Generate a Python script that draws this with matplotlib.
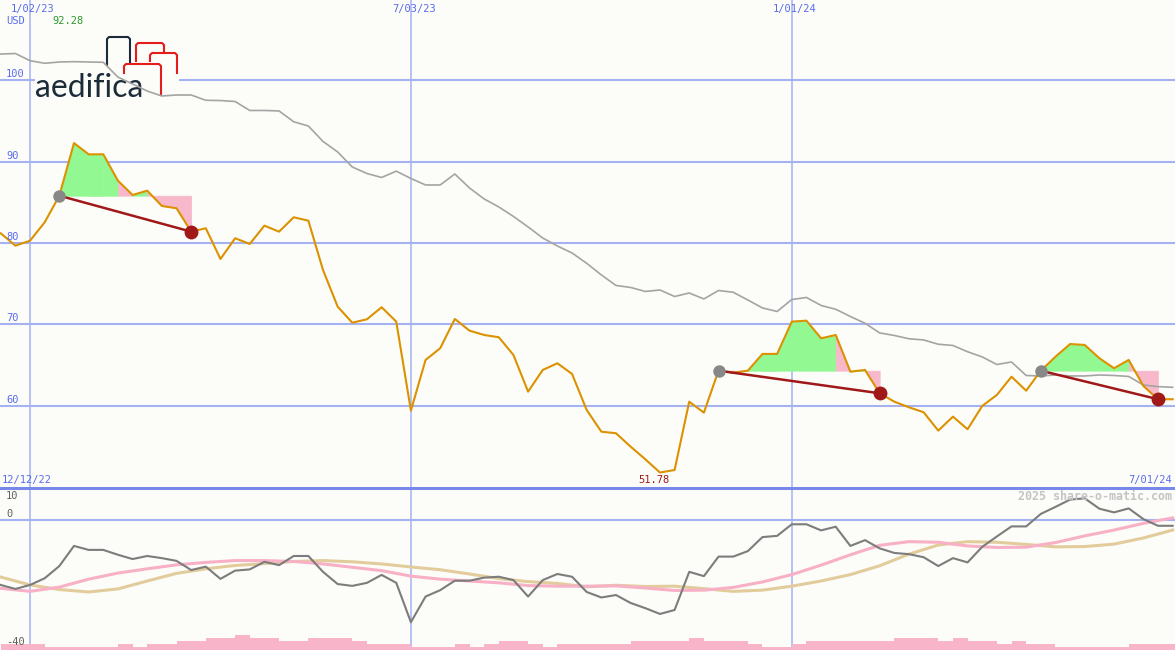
import numpy as np
import matplotlib
matplotlib.use("Agg")
import matplotlib.pyplot as plt
import matplotlib.transforms as mtransforms
from matplotlib.patches import Rectangle

# weekly data, week 0 = 1/02/23
weeks = np.arange(-2, 79)
price = np.array([
    81.19, 79.67, 80.28, 82.54, 85.81, 92.28, 90.90, 90.90, 87.66, 85.90,
    86.43, 84.55, 84.27, 81.39, 81.81, 78.03, 80.58, 79.88, 82.13, 81.39,
    83.16, 82.74, 76.68, 72.17, 70.20, 70.62, 72.10, 70.33, 59.39, 65.62,
    67.06, 70.66, 69.22, 68.69, 68.41, 66.23, 61.72, 64.39, 65.21, 63.90,
    59.47, 56.80, 56.61, 54.96, 53.41, 51.78, 52.09, 60.49, 59.14, 64.30,
    64.06, 64.30, 66.36, 66.36, 70.33, 70.45, 68.28, 68.69, 64.18, 64.39,
    61.52, 60.49, 59.80, 59.19, 56.93, 58.65, 57.10, 59.96, 61.32, 63.56,
    61.84, 64.30, 66.02, 67.58, 67.46, 65.83, 64.60, 65.62, 62.42, 60.79,
    60.79])
index_line = np.array([
    103.23, 103.29, 102.41, 102.09, 102.25, 102.29, 102.25, 102.21, 100.39, 99.55,
    98.68, 98.07, 98.19, 98.19, 97.54, 97.51, 97.39, 96.29, 96.29, 96.23,
    94.90, 94.38, 92.48, 91.19, 89.34, 88.54, 88.05, 88.83, 87.93, 87.13,
    87.13, 88.48, 86.76, 85.41, 84.43, 83.26, 81.97, 80.61, 79.63, 78.77,
    77.50, 76.07, 74.78, 74.53, 74.04, 74.22, 73.42, 73.85, 73.12, 74.16,
    73.94, 72.99, 72.01, 71.58, 73.05, 73.30, 72.32, 71.85, 70.96, 70.13,
    68.94, 68.63, 68.22, 68.08, 67.55, 67.40, 66.63, 65.99, 65.06, 65.37,
    63.71, 63.65, 63.77, 63.65, 63.65, 63.77, 63.71, 63.59, 62.54, 62.34,
    62.26])
momentum = np.array([
    -21.3, -22.6, -21.3, -19.1, -15.1, -8.5, -9.8, -9.8, -11.4, -12.8,
    -11.8, -12.5, -13.4, -16.4, -15.3, -19.3, -16.6, -16.2, -13.7, -14.8,
    -11.8, -11.8, -17.0, -21.0, -21.6, -20.6, -18.0, -20.6, -33.5, -25.1,
    -23.0, -19.9, -19.9, -18.9, -18.6, -19.7, -25.1, -19.7, -17.7, -18.6,
    -23.6, -25.4, -24.6, -27.2, -28.9, -30.8, -29.5, -17.0, -18.4, -12.0,
    -12.0, -10.2, -5.6, -5.2, -1.4, -1.4, -3.4, -2.2, -8.5, -6.6,
    -9.3, -10.8, -11.2, -12.2, -15.1, -12.5, -13.9, -8.8, -5.4, -2.1,
    -2.1, 2.0, 4.3, 6.7, 7.1, 3.7, 2.5, 3.8, 0.3, -1.9,
    -1.9])
avg_weeks = np.arange(-2, 79, 2)
avg_fast = [-22.4, -23.4, -22.0, -19.4, -17.4, -16.0, -14.7, -13.9, -13.3, -13.3,
            -13.6, -14.4, -15.5, -16.6, -18.4, -19.4, -20.0, -20.6, -21.5, -21.7,
            -21.7, -21.6, -22.3, -23.1, -23.0, -22.1, -20.3, -17.9, -14.8, -11.4,
            -8.3, -7.1, -7.3, -8.5, -9.0, -8.9, -7.4, -5.2, -3.3, -1.1, 0.7]
avg_slow = [-18.7, -21.3, -22.8, -23.6, -22.6, -20.0, -17.5, -16.0, -14.9, -14.3,
            -13.6, -13.3, -13.7, -14.4, -15.4, -16.3, -17.7, -19.2, -20.2, -20.8,
            -21.9, -21.4, -21.8, -21.7, -22.5, -23.4, -23.0, -21.7, -20.0, -17.9,
            -15.0, -11.2, -8.2, -7.1, -7.3, -8.0, -8.8, -8.7, -7.9, -5.9, -3.3]
volume = [2, 2, 2, 1, 1, 1, 1, 1, 2, 1, 2, 2, 3, 3, 4, 4, 5, 4, 4, 3,
          3, 4, 4, 4, 3, 2, 2, 2, 1, 1, 1, 2, 1, 2, 3, 3, 2, 1, 2, 2,
          2, 2, 2, 3, 3, 3, 3, 4, 3, 3, 3, 2, 1, 1, 2, 3, 3, 3, 3, 3,
          3, 4, 4, 4, 3, 4, 3, 3, 2, 3, 2, 2, 1, 1, 1, 1, 1, 2, 2, 2, 2]

date_weeks = [0, 26, 52]
date_labels = ["1/02/23", "7/03/23", "1/01/24"]
price_ticks = [60, 70, 80, 90, 100]
lower_ticks = [10, 0, -40]
# (start week, end week, segment colours G=green P=pink)
patterns = [(2, 11, "GGGGPGPPP"), (47, 58, "PPGGGGGGPGP"), (69, 77, "GGGGGGPP")]

W, H = 1175, 650
split = 487
bg = "#fcfdf9"
blue = "#5a6aee"
grid_c = "#a4b2f2"
darkred = "#a01818"
mono = "DejaVu Sans Mono"
fs = 7.5

fig = plt.figure(figsize=(W / 100, H / 100), dpi=100)
fig.patch.set_facecolor(bg)
ax = fig.add_axes([0, (H - split) / H, 1, split / H])
ax2 = fig.add_axes([0, 0, 1, (H - split) / H])
for a in (ax, ax2):
    a.set_axis_off()
px = mtransforms.Affine2D().scale(1 / W, -1 / H).translate(0, 1) + fig.transFigure

# grid
for t in price_ticks:
    ax.axhline(t, color=grid_c, lw=1.5, zorder=1)
for w in date_weeks:
    ax.axvline(w, color=grid_c, lw=1.1, zorder=1)
    ax2.axvline(w, color=grid_c, lw=1.1, zorder=1)

# logo
ax.add_patch(Rectangle((35, 34), 144, 65, transform=px, facecolor=bg,
                       edgecolor="none", zorder=2))
ax.plot([107, 107, 109, 128, 130, 130], [65, 39, 37, 37, 39, 62], color="#1c2b39",
        lw=1.5, transform=px, zorder=2.5, solid_joinstyle="round")
for xs, ys in [([136, 136, 138, 162, 164, 164], [61, 45, 43, 43, 45, 52]),
               ([150, 150, 152, 175, 177, 177], [61, 55, 53, 53, 55, 73]),
               ([124, 124, 126, 159, 161, 161], [73, 66, 64, 64, 66, 95])]:
    ax.plot(xs, ys, color="#e41c1c", lw=1.5, transform=px, zorder=2.5,
            solid_joinstyle="round")
ax.text(35, 97, "aedifica", transform=px, fontsize=23, color="#1c2b39",
        family="Lato", va="baseline", ha="left", zorder=2.5)

# fills + trend lines
fill_c = {"G": "#92f892", "P": "#f8b8cc"}
for start, end, cols in patterns:
    i0 = start - weeks[0]
    base = price[i0]
    for k, c in enumerate(cols):
        i = i0 + k
        ax.fill_between(weeks[i:i + 2], price[i:i + 2], base, facecolor=fill_c[c],
                        edgecolor=fill_c[c], lw=0.5, zorder=3)

ax.plot(weeks, index_line, color="#a4a4a4", lw=1.2, zorder=3.5)
ax.plot(weeks, price, color="#dc9200", lw=1.5, zorder=4)

for start, end, cols in patterns:
    i0, i1 = start - weeks[0], end - weeks[0]
    ax.plot([start, end], [price[i0], price[i1]], color=darkred, lw=1.8, zorder=5)
    ax.plot(start, price[i0], "o", color="#888888", ms=9, mec="none", zorder=6)
    ax.plot(end, price[i1], "o", color=darkred, ms=10, mec="none", zorder=6)

# labels main
for t in price_ticks:
    ax.annotate(str(t), xy=(0, t), xycoords=ax.get_yaxis_transform(), xytext=(6, 3),
                textcoords="offset pixels", color=blue, fontsize=fs, family=mono,
                va="baseline", ha="left", zorder=7)
for w, lab in zip(date_weeks, date_labels):
    ax.annotate(lab, xy=(w, 1), xycoords=ax.get_xaxis_transform(), xytext=(3, -12),
                textcoords="offset pixels", color=blue, fontsize=fs, family=mono,
                va="baseline", ha="center")
ax.text(6, 24, "USD", transform=px, color=blue, fontsize=fs, family=mono, va="baseline")
imax = int(np.argmax(price))
imin = int(np.argmin(price))
ax.text(52, 24, f"{price[imax]:.2f}", transform=px, color="#2a9a2a", fontsize=fs,
        family=mono, va="baseline")
ax.annotate(f"{price[imin]:.2f}", xy=(weeks[imin], 0), xycoords=ax.get_xaxis_transform(),
            xytext=(-6, 4), textcoords="offset pixels", color=darkred, fontsize=fs,
            family=mono, ha="center", va="baseline")
ax.text(2, 483, "12/12/22", transform=px, color=blue, fontsize=fs, family=mono,
        va="baseline")
ax.text(1172, 483, "7/01/24", transform=px, color=blue, fontsize=fs, family=mono,
        va="baseline", ha="right")

# lower panel
ax2.bar(weeks, volume, width=1.0, align="edge", bottom=-42.62, color="#f8b4c8",
        lw=0, zorder=1)
ax2.axhline(0, color=grid_c, lw=1.5, zorder=1.5)
ax2.axhline(10.4, color="#7888e8", lw=2.2, zorder=1.5)
ax2.plot(avg_weeks, avg_slow, color="#e2cc9c", lw=2.2, zorder=2)
ax2.plot(avg_weeks, avg_fast, color="#f8b0c6", lw=2.2, zorder=2.5)
ax2.plot(weeks, momentum, color="#7c7c7c", lw=1.5, zorder=3)
for t, off in zip(lower_ticks, [-9, 3, -3]):
    ax2.annotate(str(t), xy=(0, t), xycoords=ax2.get_yaxis_transform(), xytext=(6, off),
                 textcoords="offset pixels", color="#606060", fontsize=fs, family=mono,
                 va="baseline", ha="left", zorder=7)
ax2.text(1172, 500, "2025 share-o-matic.com", transform=px, color="#c4c4c4",
         fontsize=8.4, family=mono, weight="bold", ha="right", va="baseline")

for a in (ax, ax2):
    a.set_xlim(-2.05, 78.16)
ax.set_ylim(50.0, 109.87)
ax2.set_ylim(-42.62, 10.82)

fig.savefig("out.png", dpi=100, facecolor=bg)
